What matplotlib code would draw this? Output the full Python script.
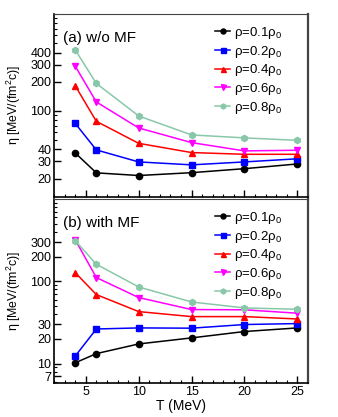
import numpy as np
import matplotlib.pyplot as plt
from matplotlib.ticker import FixedLocator, NullFormatter, FixedFormatter

plt.rcParams['font.family'] = ['Liberation Sans', 'DejaVu Sans']
plt.rcParams['mathtext.fontset'] = 'custom'
plt.rcParams['mathtext.rm'] = 'Liberation Sans'

T = [4, 6, 10, 15, 20, 25]
labels = ['\u03c1=0.1\u03c1$_0$', '\u03c1=0.2\u03c1$_0$', '\u03c1=0.4\u03c1$_0$',
          '\u03c1=0.6\u03c1$_0$', '\u03c1=0.8\u03c1$_0$']

# (a) w/o MF
eta_a_01 = [36.8, 22.9, 21.5, 23.0, 25.3, 28.3]
eta_a_02 = [74.3, 39.5, 29.7, 27.7, 29.7, 32.0]
eta_a_04 = [182, 78, 46.2, 37.1, 35.6, 35.6]
eta_a_06 = [290, 123.6, 66.6, 47, 38.6, 39.2]
eta_a_08 = [427, 192, 88.6, 56.4, 52.6, 49.6]

# (b) with MF
eta_b_01 = [10.2, 13.2, 17.3, 20.5, 24.5, 27.1]
eta_b_02 = [12.3, 26.3, 27.1, 26.9, 29.8, 30.6]
eta_b_04 = [127.6, 68.9, 42.8, 37.2, 37.2, 34.8]
eta_b_06 = [320, 111, 63.4, 45.3, 45, 40.9]
eta_b_08 = [312, 161, 85.3, 56, 47.4, 45.7]

colors = ['black', '#0000ff', '#ff0000', '#ff00ff', '#88c8a8']
markers = ['o', 's', '^', 'v', 'h']

fig = plt.figure(figsize=(3.38, 4.17), dpi=100)
ax1 = fig.add_axes([54/338, 1-197/417, 254/338, 183/417])
ax2 = fig.add_axes([54/338, 1-383/417, 254/338, 184/417])

def setup(ax, data, title, ylim, major):
    for y, c, m, l in zip(data, colors, markers, labels):
        ax.plot(T, y, color=c, marker=m, markersize=4.5, lw=1.1, label=l)
    ax.set_yscale('log')
    ax.set_xlim(2, 26)
    ax.set_ylim(*ylim)
    ax.yaxis.set_major_locator(FixedLocator(major))
    ax.yaxis.set_major_formatter(FixedFormatter([str(v) for v in major]))
    minor = [s * 10**d for d in range(0, 4) for s in range(1, 10)]
    minor = [v for v in minor if v not in major]
    ax.yaxis.set_minor_locator(FixedLocator(minor))
    ax.yaxis.set_minor_formatter(NullFormatter())
    ax.set_xticks([5, 10, 15, 20, 25])
    ax.set_xticks(range(2, 27), minor=True)
    ax.tick_params(which='both', direction='in', right=False, top=False,
                   labelsize=9, pad=2)
    ax.tick_params(which='major', length=5, width=1)
    ax.tick_params(which='minor', length=2.5, width=0.8)
    ax.set_ylabel('\u03b7 [MeV/(fm$^2$c)]', fontsize=8.8, labelpad=5)
    ax.text(0.035, 0.905, title, transform=ax.transAxes, fontsize=11, va='top')
    ax.spines['left'].set_linewidth(1.2)
    ax.spines['bottom'].set_linewidth(1.2)
    ax.spines['right'].set_linewidth(1.6)
    ax.spines['right'].set_color('#444444')
    ax.spines['top'].set_color('#444444')
    ax.legend(loc='upper right', bbox_to_anchor=(0.9, 0.94), frameon=False,
              fontsize=9.5, handlelength=1.2, handletextpad=0.3,
              labelspacing=0.2, borderaxespad=0.0, borderpad=0.0,
              markerscale=0.8)

setup(ax1, [eta_a_01, eta_a_02, eta_a_04, eta_a_06, eta_a_08], '(a) w/o MF',
      (12.9, 1000), [20, 30, 40, 100, 200, 300, 400])
setup(ax2, [eta_b_01, eta_b_02, eta_b_04, eta_b_06, eta_b_08], '(b) with MF',
      (5.8, 1000), [7, 10, 20, 30, 100, 200, 300])
ax1.tick_params(labelbottom=False)
ax2.set_xlabel('T (MeV)', fontsize=10, labelpad=1)

fig.savefig('out.png', dpi=100)
